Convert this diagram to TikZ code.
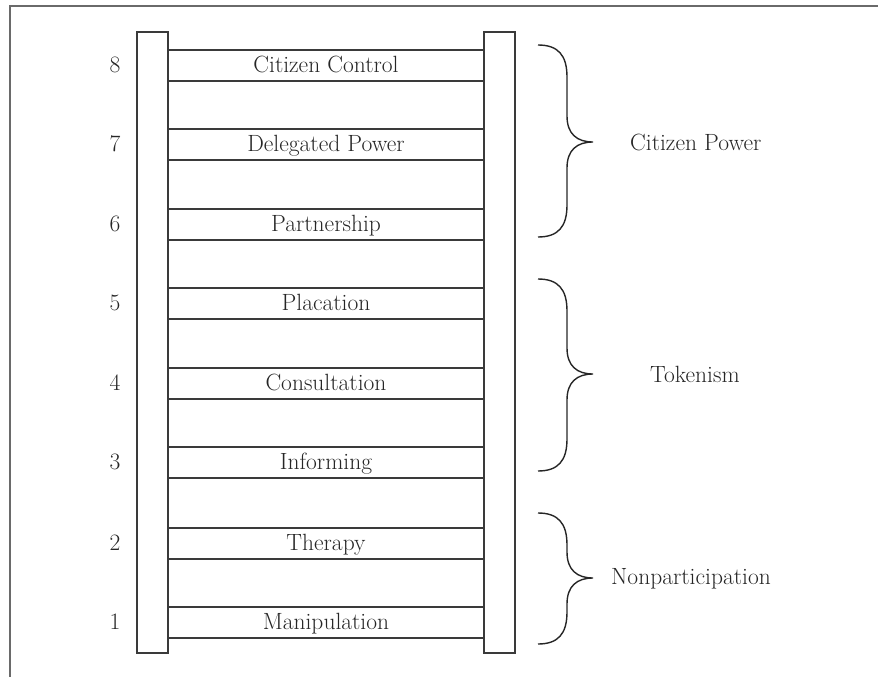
\documentclass[tikz,border=0pt]{standalone}
\definecolor{inkc}{HTML}{262626}
\definecolor{linec}{HTML}{3A3A3A}
\definecolor{framec}{HTML}{6A6A6A}
\begin{document}
\begin{tikzpicture}[x=1pt,y=-1pt,
  lbl/.style={font=\fontsize{23.5pt}{28pt}\selectfont, text=inkc},
  rail/.style={draw=linec, line width=1.7pt, minimum width=31pt, minimum height=621pt, inner sep=0pt, outer sep=0pt, anchor=north west},
  rung/.style={lbl, minimum width=316pt, minimum height=31pt, inner sep=0pt, outer sep=0pt, text height=14pt, text depth=0pt, anchor=north west},
  rungline/.style={draw=linec, line width=1.7pt},
  num/.style={lbl, inner sep=0pt, text height=14pt, text depth=0pt},
  grp/.style={lbl, inner sep=0pt, anchor=base west},
  bracel/.style={draw=inkc, line width=1.4pt}]
\useasboundingbox (0,0) rectangle (878,677);
% frame
\draw[draw=framec, line width=2pt] (10,677) -- (10,6) -- (878,6);
% rails
\node[rail] (lrail) at (137,32) {};
\node[rail] (rrail) at (484,32) {};
% rungs
\foreach \n/\lab/\t in {8/Citizen Control/50,7/Delegated Power/129,6/Partnership/209,5/Placation/288,4/Consultation/368,3/Informing/447,2/Therapy/528,1/Manipulation/607}{
  \node[rung] (r\n) at (168,\t) {\lab};
  \draw[rungline] (r\n.north west) -- (r\n.north east) (r\n.south west) -- (r\n.south east);
  \node[num] (n\n) at (115,{\t+15.5}) {\n};
}
% braces
\newcommand\ladderbrace[3]{%
  \draw[bracel] (538,#1) .. controls (558,#1) and (567,{#1+10}) .. (567,{#1+32})
     -- (567,{#2-26}) .. controls (567,{#2-8}) and (577,#2) .. (593,#2)
     .. controls (577,#2) and (567,{#2+8}) .. (567,{#2+26})
     -- (567,{#3-32}) .. controls (567,{#3-10}) and (558,#3) .. (538,#3);}
\ladderbrace{45}{142}{237}
\ladderbrace{279}{374}{471}
\ladderbrace{513}{578}{644}
% group labels
\node[grp] (gcp) at (630,150) {Citizen Power};
\node[grp] (gtk) at (650,382) {Tokenism};
\node[grp] (gnp) at (611,584) {Nonparticipation};
\end{tikzpicture}
\end{document}
